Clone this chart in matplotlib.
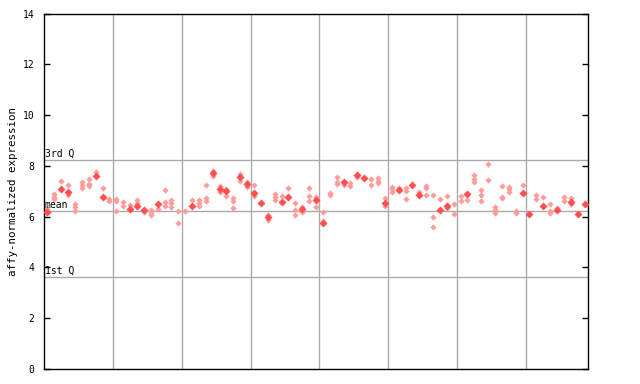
import matplotlib
matplotlib.use("Agg")
import matplotlib.pyplot as plt
import numpy as np

# one entry per sample (79 samples, 10 per group)
filled = [6.2, None, 7.1, 6.96, None, None, None, 7.62, 6.79, None,
          None, None, 6.3, 6.4, 6.27, None, 6.48, None, None, None,
          None, 6.43, None, None, 7.71, 7.09, 7.02, None, 7.57, 7.27,
          6.94, 6.55, 5.97, None, 6.59, 6.79, None, 6.3, None, 6.66,
          5.76, None, None, 7.38, None, 7.65, 7.54, None, None, 6.52,
          None, 7.05, None, 7.25, 6.84, None, None, 6.27, 6.4, None,
          None, 6.88, None, None, None, None, None, None, None, 6.94,
          6.1, None, 6.42, None, 6.26, None, 6.59, 6.1, 6.5]

replicates = [[6.15, 6.3], [6.9, 6.78, 6.68], [7.4], [7.25, 6.85], [6.5, 6.38, 6.22],
              [7.38, 7.25, 7.12], [7.5, 7.28, 7.2], [7.75], [7.12], [6.7, 6.63],
              [6.7, 6.6, 6.22], [6.57, 6.43], [6.45, 6.25], [6.65, 6.55], [6.17],
              [6.25, 6.13, 6.05], [6.3], [7.05, 6.59, 6.42], [6.66, 6.52, 6.39], [6.21, 5.74],
              [6.24], [6.66], [6.66, 6.52, 6.4], [7.25, 6.72, 6.63], [7.8, 7.6],
              [7.21, 6.98], [7.1, 6.81], [6.72, 6.62, 6.36], [7.66, 7.4], [7.35, 7.18],
              [7.23, 6.82], [], [6.06, 5.87], [6.91, 6.79, 6.67], [6.8],
              [7.14], [6.52, 6.26, 6.06], [6.39, 6.2], [7.12, 6.8, 6.6], [6.76, 6.39],
              [6.18, 5.83], [6.93, 6.84], [7.57, 7.38, 7.27], [7.24], [7.34, 7.22],
              [7.55], [], [7.48, 7.25], [7.51, 7.42, 7.34], [6.72, 6.42],
              [7.17, 7.07, 6.97], [7.14], [7.13, 7.02, 6.68], [], [6.96],
              [7.2, 7.12, 6.85], [6.85, 5.97, 5.58], [6.68], [6.81, 6.46, 6.34], [6.5, 6.1],
              [6.83, 6.62], [6.67], [7.64, 7.47, 7.36], [7.05, 6.85, 6.62], [8.07, 7.44],
              [6.39, 6.26, 6.13], [7.21, 6.79, 6.72], [7.18, 7.09, 6.98], [6.22, 6.13], [7.25],
              [], [6.85, 6.68], [6.76], [6.48, 6.22, 6.13], [6.35],
              [6.76, 6.62], [6.72, 6.5], [], []]

group_size = 10
quartiles = {"3rd Q": 8.22, "mean": 6.22, "1st Q": 3.62}
yticks = [0, 2, 4, 6, 8, 10, 12, 14]

red = "#ff5050"
pink = "#ff9c9c"
font = "DejaVu Sans Mono"

fig = plt.figure(figsize=(6.4, 3.84), dpi=100)
ax = fig.add_axes([44 / 640, 15 / 384, 544 / 640, 355.5 / 384])

n = len(filled)
for xv in np.arange(group_size - 0.5, n - 1, group_size):
    ax.axvline(xv, color="#aaaaaa", lw=1, zorder=1)
for label, val in quartiles.items():
    ax.axhline(val, color="#aaaaaa", lw=1, zorder=1)
    ax.text(-0.4, val + 0.05, label, fontsize=7, family=font, va="bottom", ha="left", zorder=4)

rx, ry = [], []
for i, reps in enumerate(replicates):
    for v in reps:
        rx.append(i)
        ry.append(v)
ax.plot(rx, ry, "D", ms=3.2, mfc=pink, mec="none", ls="none", zorder=2)

fx = [i for i, v in enumerate(filled) if v is not None]
fy = [v for v in filled if v is not None]
ax.plot(fx, fy, "D", ms=4.2, mfc=red, mec="none", ls="none", zorder=3)

ax.set_xlim(-0.5, n - 0.5)
ax.set_ylim(0, 14)
ax.set_xticks([])
ax.set_yticks(yticks)
ax.set_yticklabels([str(t) for t in yticks], family=font, fontsize=7)
ax.tick_params(axis="y", direction="in", length=4.5, width=1, right=True, pad=7)
for s in ax.spines.values():
    s.set_color("black")
    s.set_linewidth(1)
ax.set_ylabel("affy-normalized expression", family=font, fontsize=7.8, labelpad=3)

fig.savefig("out.png", dpi=100)
